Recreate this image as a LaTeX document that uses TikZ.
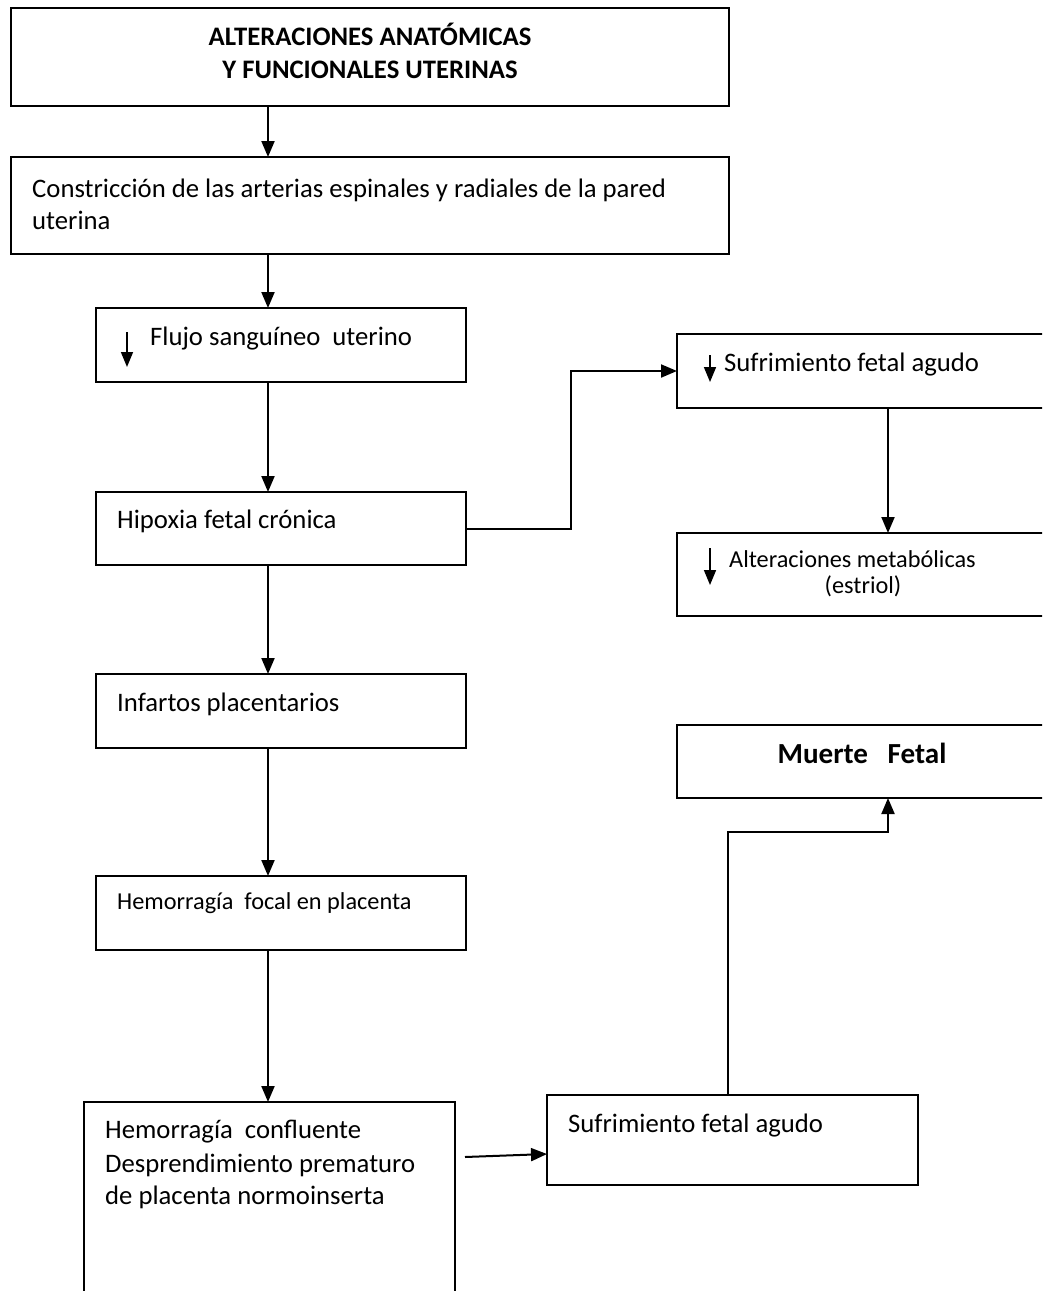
\documentclass[tikz,border=0pt]{standalone}
\usepackage{fontspec}
\setmainfont{Carlito}
\usetikzlibrary{arrows.meta}
\begin{document}
\begin{tikzpicture}[x=1pt,y=-1pt,
  box/.style={draw, line width=2pt, rectangle, inner sep=0pt, outer sep=0pt, anchor=north west},
  conn/.style={line width=2pt, -{Triangle[length=16pt,width=13pt]}},
  mini/.style={line width=1.6pt, -{Triangle[length=15pt,width=12pt]}},
  txt/.style={inner sep=0pt, anchor=base west, font=\fontsize{26.7}{32}\selectfont},
  stxt/.style={inner sep=0pt, anchor=base west, font=\fontsize{24.3}{29}\selectfont},
  btxt/.style={inner sep=0pt, anchor=base, font=\fontsize{26.7}{32}\selectfont\bfseries},
  bbtxt/.style={inner sep=0pt, anchor=base, font=\fontsize{29.1}{35}\selectfont\bfseries},
]
\useasboundingbox (0,0) rectangle (1042,1291);
\clip (0,0) rectangle (1042,1291);
\fill[white] (0,0) rectangle (1042,1291);

% boxes
\node[box, minimum width=718pt, minimum height=98pt] (b1) at (11,8) {};
\node[box, minimum width=718pt, minimum height=97pt] (b2) at (11,157) {};
\node[box, minimum width=370pt, minimum height=74pt] (b3) at (96,308) {};
\node[box, minimum width=370pt, minimum height=73pt] (b4) at (96,492) {};
\node[box, minimum width=370pt, minimum height=74pt] (b5) at (96,674) {};
\node[box, minimum width=370pt, minimum height=74pt] (b6) at (96,876) {};
\node[box, minimum width=371pt, minimum height=260pt] (b7) at (84,1102) {};
\node[box, minimum width=420pt, minimum height=74pt] (r1) at (677,334) {};
\node[box, minimum width=420pt, minimum height=83pt] (r2) at (677,533) {};
\node[box, minimum width=420pt, minimum height=73pt] (r3) at (677,725) {};
\node[box, minimum width=371pt, minimum height=90pt] (r4) at (547,1095) {};

% texts
\node[btxt] (t1a) at (370,45) {ALTERACIONES ANATÓMICAS};
\node[btxt] (t1b) at (370,78) {Y FUNCIONALES UTERINAS};
\node[txt] (t2a) at (32,197) {Constricción de las arterias espinales y radiales de la pared};
\node[txt] (t2b) at (32,229) {uterina};
\node[txt] (t3) at (150,345) {Flujo sanguíneo~~uterino};
\node[txt] (t4) at (117,528) {Hipoxia fetal crónica};
\node[txt] (t5) at (117,711) {Infartos placentarios};
\node[stxt] (t6) at (117,909) {Hemorragía~~focal en placenta};
\node[txt] (t7a) at (105,1138) {Hemorragía~~confluente};
\node[txt] (t7b) at (105,1172) {Desprendimiento prematuro};
\node[txt] (t7c) at (105,1204) {de placenta normoinserta};
\node[txt] (r1t) at (724,371) {Sufrimiento fetal agudo};
\node[stxt] (r2a) at (729,567) {Alteraciones metabólicas};
\node[stxt, anchor=base] (r2b) at (863,593) {(estriol)};
\node[bbtxt] (r3t) at (862,763) {Muerte~~~Fetal};
\node[txt] (r4t) at (568,1132) {Sufrimiento fetal agudo};

% helper coordinates
\coordinate (ax) at (268,0);
\coordinate (jx) at (571,0);
\coordinate (rx) at (888,0);
\coordinate (ux) at (728,0);
\coordinate (tc) at (888,832);
\coordinate (hs) at (465,1157);
\coordinate (he) at (547,1154);

% main connectors
\draw[conn] (b1.south -| ax) -- (b2.north -| ax);
\draw[conn] (b2.south -| ax) -- (b3.north -| ax);
\draw[conn] (b3.south -| ax) -- (b4.north -| ax);
\draw[conn] (b4.south -| ax) -- (b5.north -| ax);
\draw[conn] (b5.south -| ax) -- (b6.north -| ax);
\draw[conn] (b6.south -| ax) -- (b7.north -| ax);
\draw[conn] (b4.east) -| (jx |- r1.west) -- (r1.west);
\draw[conn] (r1.south -| rx) -- (r2.north -| rx);
\draw[conn] (hs) -- (he);
\draw[conn] (r4.north -| ux) |- (tc) -- (r3.south -| rx);

% small "decrease" arrows
\coordinate (m1a) at (127,332); \coordinate (m1b) at (127,367);
\coordinate (m2a) at (710,355); \coordinate (m2b) at (710,382);
\coordinate (m3a) at (710,548); \coordinate (m3b) at (710,585);
\draw[mini] (m1a) -- (m1b);
\draw[mini] (m2a) -- (m2b);
\draw[mini] (m3a) -- (m3b);
\end{tikzpicture}
\end{document}
